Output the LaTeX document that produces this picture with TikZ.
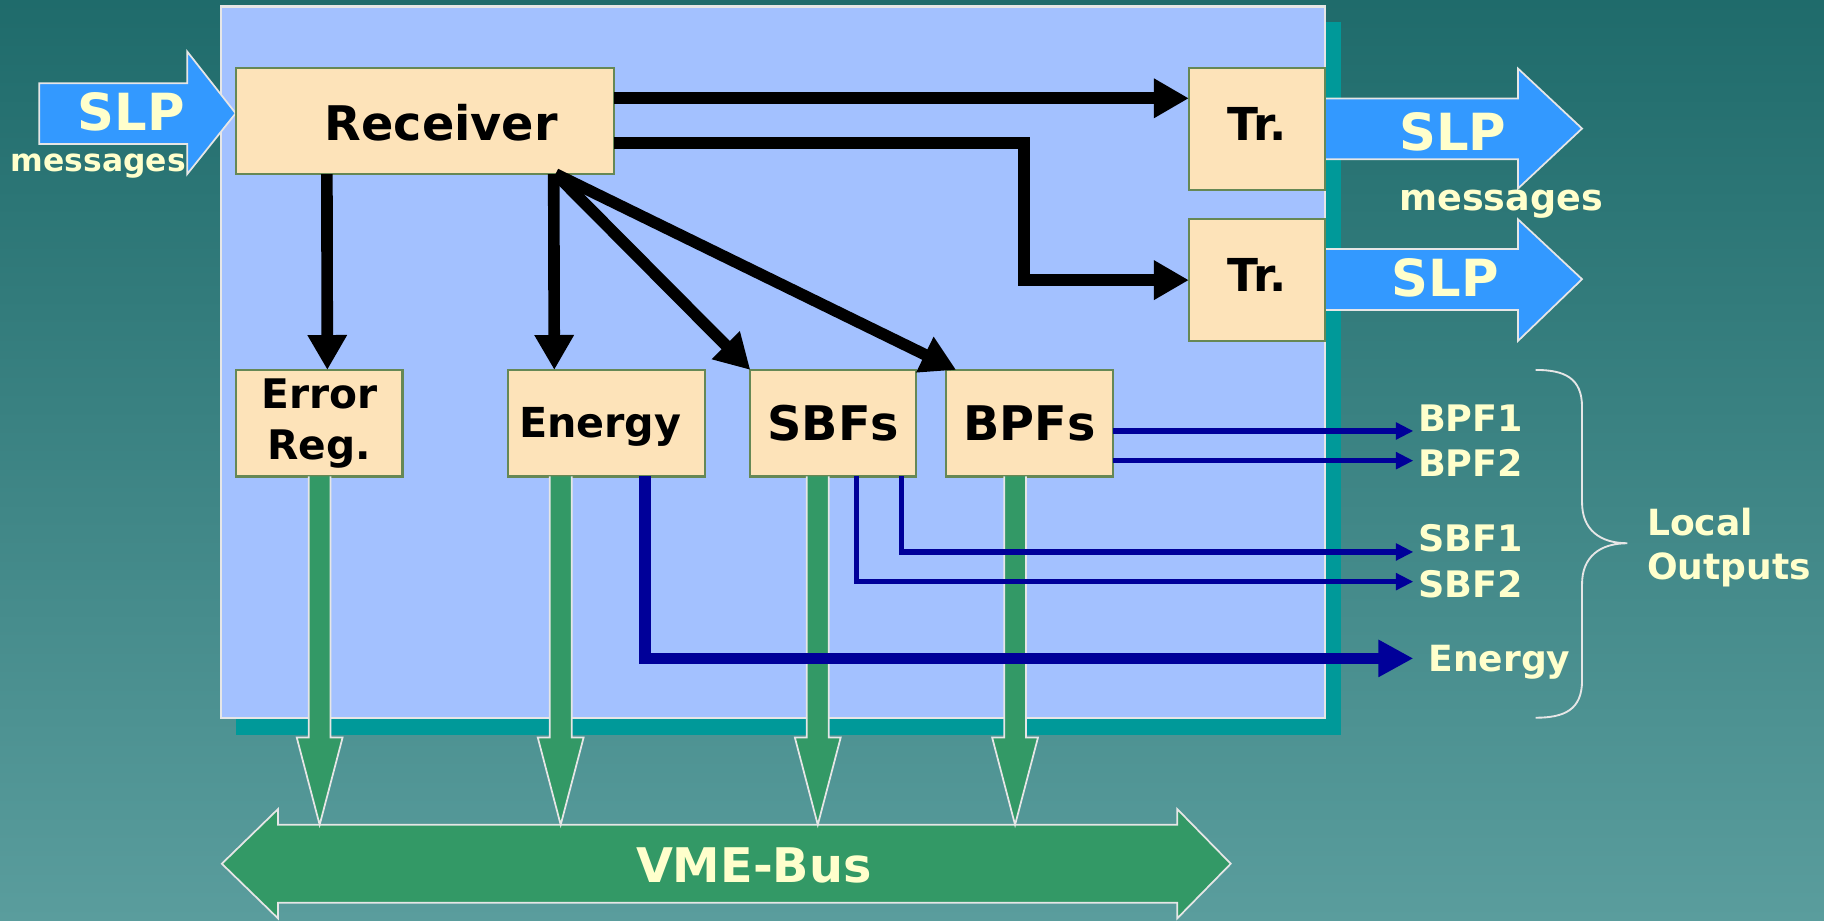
\documentclass[tikz,border=0pt]{standalone}
\usepackage{fontspec}
\setmainfont{DejaVu Sans}
\usetikzlibrary{arrows.meta,calc}
\definecolor{bgtop}{HTML}{1F6B6B}
\definecolor{bgbot}{HTML}{5A9D9D}
\definecolor{panel}{HTML}{A3C1FF}
\definecolor{shadowc}{HTML}{009999}
\definecolor{boxfill}{HTML}{FDE3B9}
\definecolor{boxedge}{HTML}{668855}
\definecolor{slpblue}{HTML}{3399FF}
\definecolor{busgreen}{HTML}{339966}
\definecolor{navyc}{HTML}{000099}
\definecolor{cream}{HTML}{FFFFCC}
\definecolor{edgew}{HTML}{E6E6E6}
\newcommand{\bfsz}[1]{\fontsize{#1}{#1}\selectfont\bfseries}
\newcommand{\grarrow}[2]{\draw[grar] let \p1=($(#1.south west)+(#2,0)$), \p2=(bustop) in
  (\x1-9.4pt,\y1) -- (\x1-9.4pt,\y2+75pt) -- (\x1-19.7pt,\y2+75pt) -- (\x1,\y2)
  -- (\x1+19.7pt,\y2+75pt) -- (\x1+9.4pt,\y2+75pt) -- (\x1+9.4pt,\y1);}
\tikzset{
  blk/.style={draw=boxedge,line width=1.8pt,fill=boxfill,inner sep=0pt,outer sep=0pt,text=black},
  bigarrow/.style={draw=edgew,line width=1.5pt,fill=slpblue},
  grar/.style={draw=edgew,line width=1.5pt,fill=busgreen},
  lbl/.style={text=cream,inner sep=0pt,outer sep=0pt},
  blackarr/.style={line width=10pt,-{Triangle[length=30pt,width=32pt]}},
  navythin/.style={draw=navyc,line width=4.5pt,-{Triangle[length=15pt,width=14pt]}},
  navythick/.style={draw=navyc,line width=10pt,-{Triangle[length=30pt,width=30pt]}},
}
\begin{document}
\begin{tikzpicture}[x=1pt,y=-1pt]
\useasboundingbox (0,0) rectangle (1568,791);
% background
\shade[top color=bgtop,bottom color=bgbot] (0,0) rectangle (1568,791);
% panel shadow and panel
\fill[shadowc] (203,19) rectangle (1153,632);
\filldraw[fill=panel,draw=edgew,line width=2pt] (190,5.7) rectangle (1139,617);
% SLP block arrows
\draw[bigarrow] (33.8,71.6) -- (161,71.6) -- (161,44.4) -- (202.6,97.4) -- (161,149.6) -- (161,123.8) -- (33.8,123.8) -- cycle;
\draw[bigarrow] (1139,84.6) -- (1305,84.6) -- (1305,59) -- (1360,110.5) -- (1305,162) -- (1305,137) -- (1139,137) -- cycle;
\draw[bigarrow] (1139,214) -- (1305,214) -- (1305,188.6) -- (1360,240) -- (1305,293) -- (1305,266.5) -- (1139,266.5) -- cycle;
% boxes
\node[blk,minimum width=325.4pt,minimum height=91.1pt,text height=32.7pt,text depth=0pt,font=\bfsz{41}] (rec) at (365.3,104.05) {\hspace*{28pt}Receiver};
\node[blk,minimum width=117pt,minimum height=104.2pt,text height=19pt,text depth=0pt,font=\bfsz{39}] (tr1) at (1080.5,110.9) {Tr.};
\node[blk,minimum width=117pt,minimum height=104.4pt,text height=19pt,text depth=0pt,font=\bfsz{39}] (tr2) at (1080.5,240.8) {Tr.};
\node[blk,minimum width=143pt,minimum height=91.6pt,align=center,font={\fontsize{35}{44}\selectfont\bfseries}] (err) at (274.5,363.8) {Error\\Reg.};
\node[blk,minimum width=169pt,minimum height=91.6pt,text height=24pt,text depth=0pt,font=\bfsz{35.5}] (en) at (521.5,363.8) {Energy\hspace*{11pt}};
\node[blk,minimum width=142.5pt,minimum height=91.6pt,text height=30.4pt,text depth=0pt,font=\bfsz{41}] (sbf) at (716.25,363.8) {SBFs};
\node[blk,minimum width=143.5pt,minimum height=91.6pt,text height=30.4pt,text depth=0pt,font=\bfsz{41}] (bpf) at (885.25,363.8) {BPFs};
% SLP texts
\node[lbl,anchor=base,font=\bfsz{44}] (slpin) at (113,111.8) {SLP};
\node[lbl,anchor=base,font=\bfsz{27}] (msgin) at (84.5,147.6) {messages};
\node[lbl,anchor=base,font=\bfsz{44}] (slpo1) at (1249,129) {SLP};
\node[lbl,anchor=base,font=\bfsz{31.4}] (msgout) at (1290.5,181) {messages};
\node[lbl,anchor=base,font=\bfsz{44}] (slpo2) at (1242.6,255) {SLP};
% black arrows
\draw[blackarr] ($(rec.north east)+(0,26)$) -- ($(tr1.north west)+(0,25.7)$);
\draw[blackarr] ($(rec.north east)+(0,64.5)$) -| ($(tr2.west)+(-142,0)$) -- (tr2.west);
\draw[blackarr] ($(rec.south west)+(78.4,0)$) -- ($(err.north west)+(78.4,0)$);
\draw[blackarr] ($(rec.south west)+(273.4,0)$) -- ($(en.north west)+(39.5,0)$);
\draw[blackarr] ($(rec.south west)+(275,0)$) -- (sbf.north west);
\draw[blackarr] ($(rec.south west)+(275,0)$) -- ($(bpf.north west)+(8.5,0)$);
% VME bus
\draw[grar] (239,709) -- (1012,709) -- (1012,695.5) -- (1058,742.5) -- (1012,789.5) -- (1012,776) -- (239,776) -- (239,789.5) -- (190.7,742.5) -- (239,695.5) -- cycle;
\coordinate (bustop) at (624.4,709);
\node[lbl,anchor=base,font=\bfsz{41}] (bus) at (648,759) {VME-Bus};
% green arrows to bus
\grarrow{err}{71.8}
\grarrow{en}{45}
\grarrow{sbf}{58}
\grarrow{bpf}{59.1}
% local outputs
\coordinate (o1) at (1215,370.5);
\coordinate (o2) at (1215,396);
\coordinate (o3) at (1215,474.5);
\coordinate (o4) at (1215,500);
\coordinate (o5) at (1215,566);
\draw[navythin] ($(bpf.north east)+(0,52.5)$) -- (o1);
\draw[navythin] ($(bpf.north east)+(0,78)$) -- (o2);
\draw[navythin] ($(sbf.south west)+(130,0)$) |- (o3);
\draw[navythin] ($(sbf.south west)+(91,0)$) |- (o4);
\draw[navythick] ($(en.south west)+(117.5,0)$) |- (o5);
\node[lbl,anchor=base west,font=\bfsz{31.4}] (l1) at (1219,371) {BPF1};
\node[lbl,anchor=base west,font=\bfsz{31.4}] (l2) at (1219,410) {BPF2};
\node[lbl,anchor=base west,font=\bfsz{31.4}] (l3) at (1219,474) {SBF1};
\node[lbl,anchor=base west,font=\bfsz{31.4}] (l4) at (1219,514) {SBF2};
\node[lbl,anchor=base west,font=\bfsz{31}] (l5) at (1228,577) {Energy};
% brace
\draw[edgew,line width=1.6pt] (1320,318) .. controls (1345,318) and (1360,325) .. (1360,350) -- (1360,432)
  .. controls (1360,455) and (1375,467) .. (1399,467)
  .. controls (1375,467) and (1360,479) .. (1360,502) -- (1360,585)
  .. controls (1360,610) and (1345,617) .. (1320,617);
\node[lbl,anchor=north west,align=left,font={\fontsize{31}{38.6}\selectfont\bfseries}] (loc) at (1416,436.4) {Local\\Outputs};
\end{tikzpicture}
\end{document}
